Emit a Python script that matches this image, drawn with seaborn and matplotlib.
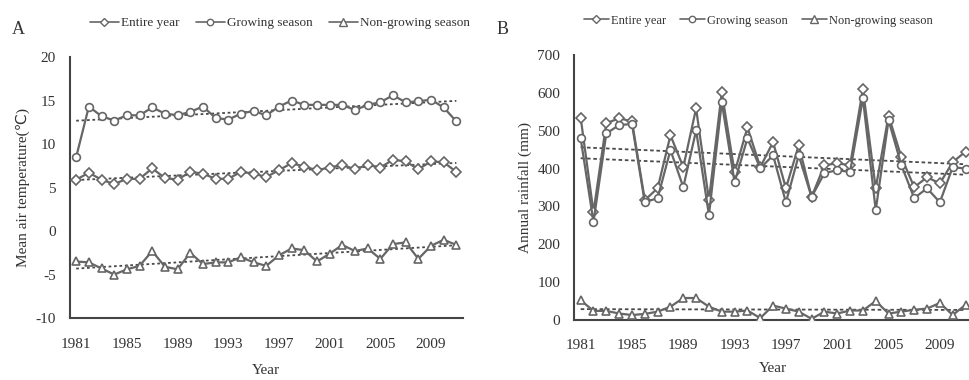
import numpy as np
import pandas as pd
import matplotlib
matplotlib.use("Agg")
import matplotlib.pyplot as plt
from matplotlib.ticker import MultipleLocator
import seaborn as sns

years = list(range(1981, 2012))

# Panel A: mean air temperature (°C)
temp_entire = [5.9, 6.7, 5.9, 5.4, 6.0, 6.0, 7.2, 6.1, 5.9, 6.8, 6.6, 6.0, 6.0, 6.8, 6.6, 6.2,
               7.0, 7.8, 7.4, 7.0, 7.3, 7.6, 7.1, 7.6, 7.3, 8.2, 8.0, 7.1, 8.0, 7.9, 6.8]
temp_growing = [8.5, 14.3, 13.2, 12.7, 13.3, 13.3, 14.2, 13.5, 13.3, 13.7, 14.3, 13.0, 12.8, 13.5,
                13.8, 13.3, 14.3, 15.0, 14.5, 14.5, 14.5, 14.5, 13.9, 14.5, 14.8, 15.6, 14.8, 14.9,
                15.1, 14.2, 12.6]
temp_nongrowing = [-3.5, -3.6, -4.3, -5.0, -4.4, -4.0, -2.3, -4.1, -4.4, -2.5, -3.8, -3.6, -3.6,
                   -3.0, -3.6, -4.0, -2.8, -2.0, -2.2, -3.5, -2.6, -1.6, -2.3, -2.0, -3.2, -1.5,
                   -1.3, -3.2, -1.7, -1.0, -1.6]

# Panel B: annual rainfall (mm)
rain_entire = [535, 285, 520, 533, 525, 317, 348, 488, 404, 559, 317, 602, 390, 509, 404, 470,
               348, 462, 325, 409, 414, 409, 610, 348, 540, 430, 351, 377, 361, 417, 445]
rain_growing = [480, 259, 493, 515, 518, 311, 322, 449, 351, 501, 277, 575, 364, 480, 401, 435,
                311, 435, 325, 388, 396, 391, 586, 290, 528, 409, 322, 348, 311, 404, 400]
rain_nongrowing = [52, 24, 24, 17, 13, 16, 22, 35, 58, 58, 35, 22, 22, 25, 5, 38, 30, 22, 3,
                   22, 17, 25, 25, 50, 17, 22, 27, 30, 45, 13, 40]

series_names = ["Entire year", "Growing season", "Non-growing season"]
markers = ["D", "o", "^"]
marker_sizes = [4.8, 5.6, 6.2]
tick_years = list(range(1981, 2012, 4))

sns.set_style("white")
plt.rcParams["font.family"] = ["Liberation Serif", "DejaVu Serif"]
plt.rcParams["axes.unicode_minus"] = False

line_color = "#666666"
trend_color = "#4a4a4a"
text_color = "#333333"

fig = plt.figure(figsize=(9.7, 3.8), dpi=100)
axA = fig.add_axes([0.072, 0.163, 0.405, 0.687])
axB = fig.add_axes([0.592, 0.158, 0.41, 0.697])


def draw_panel(ax, values_list, trend_style, xlabel_pad):
    handles = []
    for name, vals, mk, ms in zip(series_names, values_list, markers, marker_sizes):
        df = pd.DataFrame({"Year": years, "Value": vals})
        sns.lineplot(data=df, x="Year", y="Value", ax=ax, color=line_color, lw=1.6,
                     marker=mk, markersize=ms, markerfacecolor="white",
                     markeredgecolor=line_color, markeredgewidth=1.2, zorder=3)
        sns.regplot(data=df, x="Year", y="Value", ax=ax, scatter=False, ci=None,
                    truncate=True,
                    line_kws=dict(color=trend_color, lw=1.3, ls=trend_style, zorder=2))
        handles.append(plt.Line2D([], [], color=line_color, lw=1.2, marker=mk,
                                  markersize=ms - 1, markerfacecolor="white",
                                  markeredgecolor=line_color, markeredgewidth=1.0,
                                  label=name))
    ax.set_xlim(1980.5, 2011.5)
    ax.set_xticks(tick_years)
    ax.xaxis.set_minor_locator(MultipleLocator(1))
    for s in ["top", "right"]:
        ax.spines[s].set_visible(False)
    for s in ["left", "bottom"]:
        ax.spines[s].set_color("#444444")
        ax.spines[s].set_linewidth(1.5)
    ax.tick_params(axis="both", which="major", direction="in", length=4, width=1,
                   color="#444444", labelsize=11, labelcolor=text_color)
    ax.tick_params(axis="x", which="major", pad=14)
    ax.tick_params(axis="y", which="major", pad=10)
    ax.tick_params(axis="x", which="minor", direction="in", length=3, width=1,
                   color="#444444")
    ax.set_xlabel("Year", fontsize=11, color=text_color, labelpad=xlabel_pad)
    return handles


hA = draw_panel(axA, [temp_entire, temp_growing, temp_nongrowing], (0, (1.5, 1.5)), 10)
axA.set_ylim(-10, 20)
axA.set_yticks(range(-10, 21, 5))
axA.set_ylabel("Mean air temperature(\u2103)", fontsize=11, color=text_color,
               family=["Liberation Serif", "DejaVu Sans"])

hB = draw_panel(axB, [rain_entire, rain_growing, rain_nongrowing], (0, (2, 1.5)), 7)
axB.set_ylim(0, 700)
axB.set_yticks(range(0, 701, 100))
axB.set_ylabel("Annual rainfall (mm)", fontsize=11, color=text_color)

axA.legend(handles=hA, loc="lower left", bbox_to_anchor=(0.02, 1.06), ncol=3,
           frameon=False, fontsize=9.5, handlelength=2.2, columnspacing=1.2,
           handletextpad=0.2, labelcolor=text_color)
axB.legend(handles=hB, loc="lower left", bbox_to_anchor=(-0.005, 1.065), ncol=3,
           frameon=False, fontsize=9, handlelength=2.0, columnspacing=1.1,
           handletextpad=0.2, labelcolor=text_color)

fig.text(0.012, 0.91, "A", fontsize=13, color=text_color)
fig.text(0.512, 0.91, "B", fontsize=13, color=text_color)

fig.savefig("out.png", dpi=100, facecolor="white")
